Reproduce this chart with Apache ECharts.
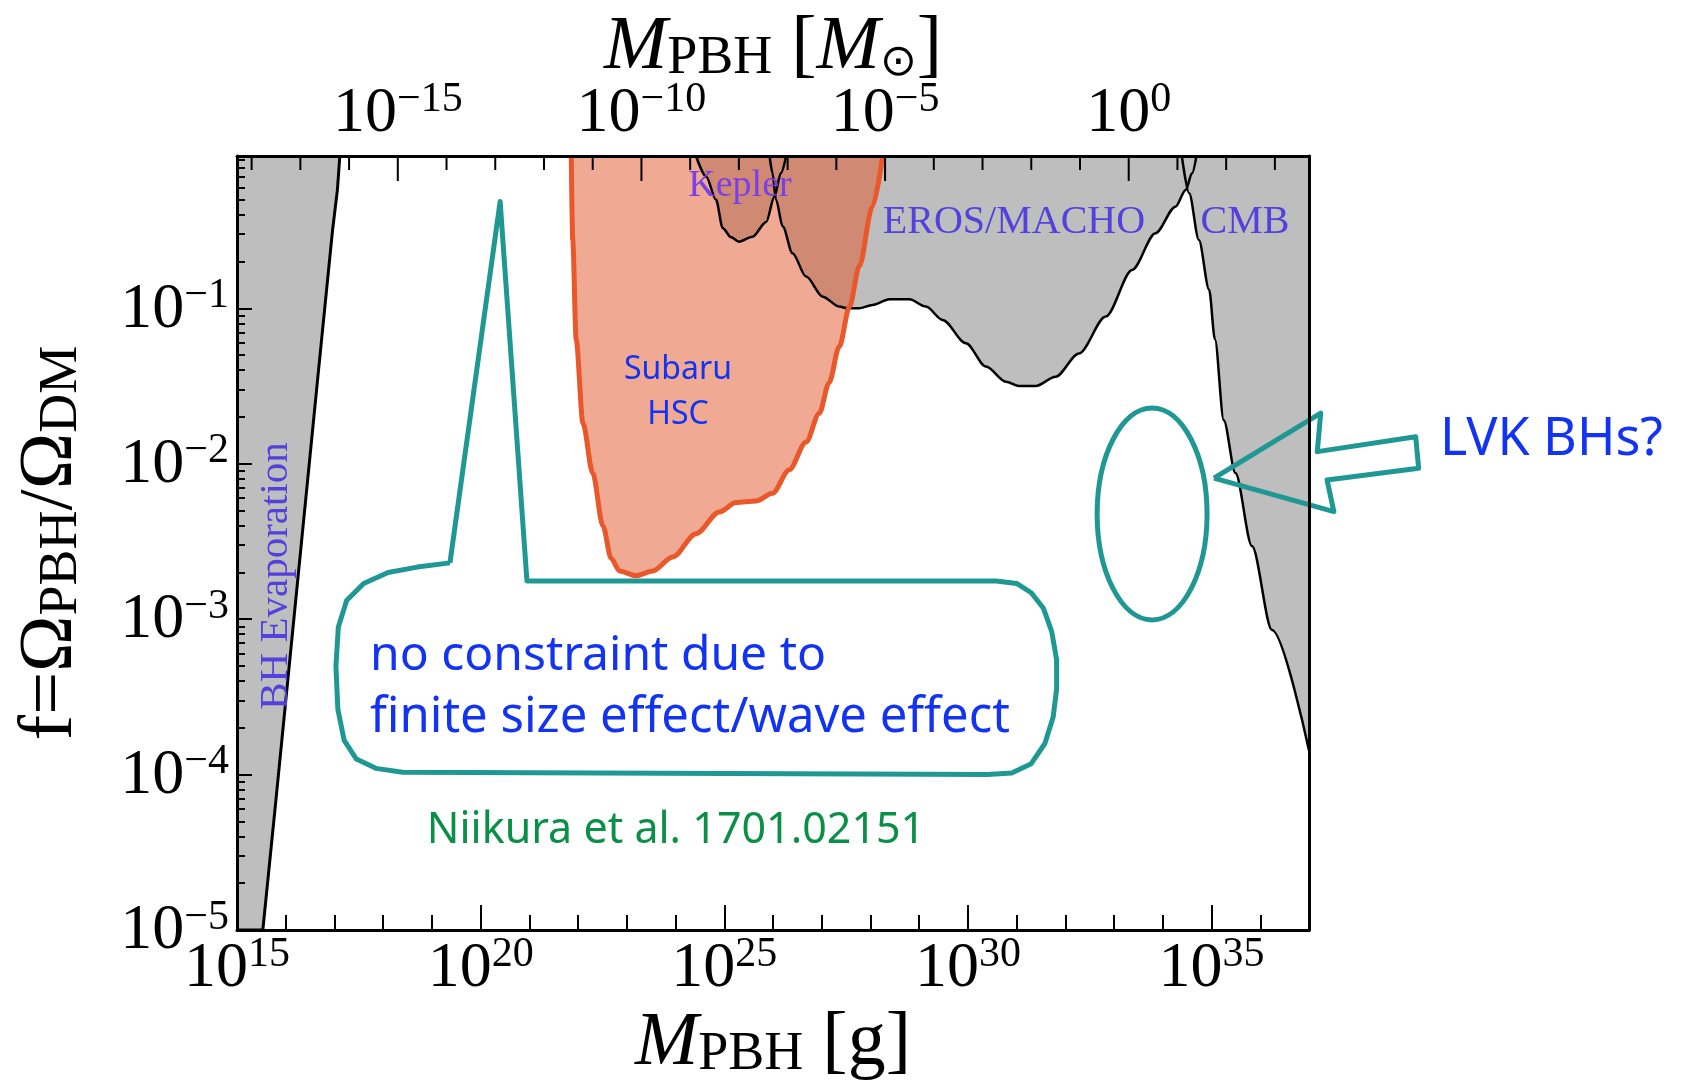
<!DOCTYPE html>
<html>
<head>
<meta charset="utf-8">
<script src="https://cdn.jsdelivr.net/npm/echarts@6/dist/echarts.min.js"></script>
<style>
html, body { margin: 0; padding: 0; background: #fff; }
#chart { width: 1681px; height: 1081px; }
</style>
</head>
<body>
<div id="chart"></div>
<script>
// every x value is log10(M / g), every y value is log10(f)
var xMin = 15, xMax = 37, yMin = -5, yMax = -0.02;
var sunLog = 33.3; // log10(M_sun / g), shift for the top axis

var yLabelValues = [-5, -4, -3, -2, -1];
var xLabelValues = [15, 20, 25, 30, 35];
var sunLabelValues = [-15, -10, -5, 0];

// BH evaporation bound
var evapM = [15.0, 15.53, 15.80, 16.66, 16.96, 17.06, 17.11];
var evapF = [-5, -5, -4.16, -1.44, -0.50, -0.24, -0.02];

// Kepler
var keplerM = [24.42, 24.63, 24.83, 24.97, 25.14, 25.30, 25.58, 25.86, 26.03, 26.16, 26.27];
var keplerF = [-0.02, -0.153, -0.302, -0.485, -0.543, -0.571, -0.539, -0.444, -0.281, -0.131, -0.02];

// EROS / MACHO
var erosM = [25.93, 25.99, 26.06, 26.20, 26.40, 26.68, 27.02, 27.36, 27.53, 27.77, 28.04, 28.39, 28.80,
    29.14, 29.48, 29.96, 30.37, 30.78, 31.05, 31.39, 31.80, 32.28, 32.83, 33.37, 33.85, 34.26, 34.47, 34.60, 34.69];
var erosF = [-0.02, -0.13, -0.30, -0.474, -0.645, -0.796, -0.925, -0.989, -1.0, -1.0, -0.978, -0.942, -0.942,
    -0.989, -1.075, -1.225, -1.375, -1.472, -1.50, -1.50, -1.44, -1.29, -1.053, -0.753, -0.517, -0.346, -0.238, -0.131, -0.02];

// CMB
var cmbM = [34.39, 34.54, 34.74, 34.95, 35.07, 35.25, 35.49, 35.83, 36.24, 37.0];
var cmbF = [-0.02, -0.26, -0.56, -0.88, -1.20, -1.72, -2.06, -2.53, -3.07, -3.845];

// Subaru HSC
var hscM = [21.86, 21.89, 21.96, 22.10, 22.30, 22.51, 22.68, 22.85, 23.19, 23.53, 23.94, 24.42, 24.90,
    25.24, 25.65, 25.99, 26.33, 26.68, 26.95, 27.15, 27.36, 27.57, 27.77, 28.04, 28.25];
var hscF = [-0.02, -0.56, -1.20, -1.74, -2.06, -2.40, -2.61, -2.69, -2.72, -2.69, -2.60, -2.45, -2.31,
    -2.25, -2.24, -2.19, -2.04, -1.86, -1.675, -1.48, -1.246, -0.99, -0.73, -0.346, -0.02];

// hand drawn annotations
var bubbleM = [19.37, 20.40, 20.95, 30.58, 31.00, 31.30, 31.55, 31.72, 31.82, 31.82, 31.75, 31.58, 31.30, 30.90,
    30.40, 18.40, 17.85, 17.45, 17.20, 17.07, 17.03, 17.08, 17.25, 17.60, 18.10, 18.70, 19.37];
var bubbleF = [-2.638, -0.313, -2.754, -2.754, -2.77, -2.83, -2.93, -3.08, -3.26, -3.45, -3.63, -3.80, -3.93, -3.99,
    -4.00, -3.985, -3.96, -3.90, -3.78, -3.58, -3.30, -3.05, -2.88, -2.77, -2.70, -2.665, -2.638];
var arrowM = [35.05, 37.24, 37.17, 39.19, 39.25, 37.37, 37.51, 35.05];
var arrowF = [-2.093, -1.675, -1.922, -1.826, -2.029, -2.104, -2.308, -2.093];
var lvkEllipse = [33.78, -2.323, 1.128, 0.682]; // centre x, centre y, half width, half height

var teal = '#1f9793';
var grayFill = '#bebebe';
var serif = 'Liberation Serif';

function pairs(xs, ys) {
    var out = [];
    for (var i = 0; i < xs.length; i++) out.push([xs[i], ys[i]]);
    return out;
}

function region(xs, ys, color, smooth, z) {
    return {
        type: 'line', data: pairs(xs, ys), symbol: 'none', smooth: smooth, smoothMonotone: 'x',
        silent: true, z: z, lineStyle: { width: 0, opacity: 0 },
        areaStyle: { color: color, opacity: 1, origin: 'end' }
    };
}

function edge(xs, ys, color, width, smooth, z) {
    return {
        type: 'line', data: pairs(xs, ys), symbol: 'none', smooth: smooth, smoothMonotone: 'x',
        silent: true, z: z, lineStyle: { color: color, width: width }
    };
}

// teal hand drawn outline, allowed to leave the plot frame
function sketch(xs, ys) {
    return {
        type: 'custom', data: [[xs[0], ys[0]]], silent: true, clip: false, z: 6,
        renderItem: function(params, api) {
            var pts = [];
            for (var i = 0; i < xs.length; i++) pts.push(api.coord([xs[i], ys[i]]));
            return {
                type: 'polyline', shape: { points: pts },
                style: { fill: 'none', stroke: teal, lineWidth: 5, lineJoin: 'round' }
            };
        }
    };
}

function powLabel(v) {
    var e = Math.round(v);
    return '{b|10}{s|' + (e < 0 ? '\u2212' + (-e) : e) + '}';
}

var tickRich = {
    b: { fontFamily: serif, fontSize: 64, color: '#000', verticalAlign: 'bottom' },
    s: { fontFamily: serif, fontSize: 42, color: '#000', verticalAlign: 'bottom', padding: [0, 0, 25, 0] }
};
var nameRich = {
    it: { fontFamily: serif, fontStyle: 'italic', fontSize: 76, color: '#000', verticalAlign: 'bottom' },
    n: { fontFamily: serif, fontSize: 76, color: '#000', verticalAlign: 'bottom' },
    sub: { fontFamily: serif, fontSize: 54, color: '#000', verticalAlign: 'bottom' },
    sun: { fontFamily: 'DejaVu Sans', fontSize: 44, color: '#000', verticalAlign: 'bottom' }
};

// log minor ticks of f
var yMinor = [];
for (var n = -5; n < 0; n++) for (var m = 2; m <= 9; m++) yMinor.push(n + Math.log10(m));

var frame = { onZero: false, lineStyle: { color: '#000', width: 3 } };
var noLine = { show: false, onZero: false };
var tickLine = { color: '#000', width: 2 };

var texts = [
    { type: 'text', x: 740, y: 186, z: 100, style: { text: 'Kepler', font: '38px "Liberation Serif"', fill: '#7b3fe6', align: 'center', verticalAlign: 'middle' } },
    { type: 'text', x: 1014, y: 222, z: 100, style: { text: 'EROS/MACHO', font: '40px "Liberation Serif"', fill: '#5540dd', align: 'center', verticalAlign: 'middle' } },
    { type: 'text', x: 1245, y: 222, z: 100, style: { text: 'CMB', font: '40px "Liberation Serif"', fill: '#5540dd', align: 'center', verticalAlign: 'middle' } },
    { type: 'text', x: 276, y: 576, rotation: Math.PI / 2, z: 100, style: { text: 'BH Evaporation', font: '41px "Liberation Serif"', fill: '#5540dd', align: 'center', verticalAlign: 'middle' } },
    { type: 'text', x: 678, y: 370, z: 100, style: { text: 'Subaru', font: '32px "Noto Sans"', fill: '#1233f2', align: 'center', verticalAlign: 'middle' } },
    { type: 'text', x: 678, y: 415, z: 100, style: { text: 'HSC', font: '32px "Noto Sans"', fill: '#1233f2', align: 'center', verticalAlign: 'middle' } },
    { type: 'text', x: 370, y: 656, z: 100, style: { text: 'no constraint due to', font: '48px "Noto Sans"', fill: '#1233f2', align: 'left', verticalAlign: 'middle' } },
    { type: 'text', x: 370, y: 718, z: 100, style: { text: 'finite size effect/wave effect', font: '49px "Noto Sans"', fill: '#1233f2', align: 'left', verticalAlign: 'middle' } },
    { type: 'text', x: 676, y: 831, z: 100, style: { text: 'Niikura et al. 1701.02151', font: '43px "Noto Sans"', fill: '#0a8f46', align: 'center', verticalAlign: 'middle' } },
    { type: 'text', x: 1440, y: 440, z: 100, style: { text: 'LVK BHs?', font: '52px "Noto Sans"', fill: '#1233f2', align: 'left', verticalAlign: 'middle' } }
];

var option = {
    backgroundColor: '#fff',
    animation: false,
    grid: { left: 237, right: 372, top: 156, bottom: 151, containLabel: false, outerBoundsMode: 'none' },
    xAxis: [{
        type: 'value', position: 'bottom', min: xMin, max: xMax, interval: 5, z: 10,
        axisLine: frame,
        axisTick: { inside: true, length: 25, lineStyle: tickLine },
        minorTick: { show: true, splitNumber: 5, length: 15, lineStyle: tickLine },
        splitLine: { show: false }, minorSplitLine: { show: false },
        axisLabel: { customValues: xLabelValues, margin: 4, formatter: powLabel, rich: tickRich },
        name: '{it|M}{sub|PBH}{n| [g]}', nameLocation: 'middle', nameGap: 72,
        nameTextStyle: { rich: nameRich }
    }, {
        type: 'value', position: 'top', min: xMin - sunLog, max: xMax - sunLog, z: 10,
        axisLine: frame,
        axisTick: { show: false },
        splitLine: { show: false },
        axisLabel: { customValues: sunLabelValues, margin: 10, formatter: powLabel, rich: tickRich },
        name: '{it|M}{sub|PBH}{n| [}{it|M}{sun|\u2299}{n|]}', nameLocation: 'middle', nameGap: 70,
        nameMoveOverlap: false,
        nameTextStyle: { rich: nameRich }
    }],
    yAxis: [{
        type: 'value', position: 'left', min: yMin, max: yMax, z: 10,
        axisLine: frame,
        axisTick: { show: true, inside: true, length: 15, customValues: yLabelValues, lineStyle: tickLine },
        splitLine: { show: false },
        axisLabel: { customValues: yLabelValues, margin: 8, formatter: powLabel, rich: tickRich },
        name: '{n|f=\u03a9}{sub|PBH}{n|/\u03a9}{sub|DM}', nameLocation: 'middle', nameRotate: 90, nameGap: 148,
        nameTextStyle: { rich: nameRich }
    }, {
        type: 'value', position: 'left', min: yMin, max: yMax, z: 10,
        axisLine: noLine,
        axisTick: { show: true, inside: true, length: 8, customValues: yMinor, lineStyle: tickLine },
        splitLine: { show: false }, axisLabel: { show: false }
    }, {
        type: 'value', position: 'right', min: yMin, max: yMax, z: 10,
        axisLine: frame, axisTick: { show: false }, axisLabel: { show: false }, splitLine: { show: false }
    }],
    series: [
        region(evapM, evapF, grayFill, false, 2),
        region(erosM, erosF, grayFill, 0.3, 2),
        region(keplerM, keplerF, grayFill, 0.3, 2),
        region(cmbM, cmbF, grayFill, 0.3, 2),
        region(hscM, hscF, 'rgba(226,86,42,0.5)', 0.3, 3),
        edge(evapM, evapF, '#000', 3, false, 4),
        edge(erosM, erosF, '#000', 2.5, 0.3, 4),
        edge(keplerM, keplerF, '#000', 2.5, 0.3, 4),
        edge(cmbM, cmbF, '#000', 2.5, 0.3, 4),
        edge(hscM, hscF, '#e8582b', 5, 0.3, 5),
        sketch(bubbleM, bubbleF),
        sketch(arrowM, arrowF),
        {
            type: 'custom', data: [lvkEllipse], silent: true, z: 6, clip: false,
            renderItem: function(params, api) {
                var c = api.coord([api.value(0), api.value(1)]);
                var s = api.size([api.value(2), api.value(3)]);
                return {
                    type: 'ellipse',
                    shape: { cx: c[0], cy: c[1], rx: s[0], ry: s[1] },
                    style: { fill: 'none', stroke: teal, lineWidth: 5 }
                };
            }
        }
    ]
};

var myChart = echarts.init(document.getElementById('chart'));
myChart.setOption(option);

// inward ticks hanging from the top frame at every solar-mass decade,
// placed through the chart's own scale; long ones every fifth decade
var tickMarks = [];
for (var k = -18; k <= 3; k++) {
    var p = myChart.convertToPixel({ xAxisIndex: 0, yAxisIndex: 0 }, [k + sunLog, yMax]);
    var len = k % 5 === 0 ? 25 : 14;
    tickMarks.push({
        type: 'line', z: 90, silent: true,
        shape: { x1: p[0], y1: p[1], x2: p[0], y2: p[1] + len },
        style: { stroke: '#000', lineWidth: 2 }
    });
}
myChart.setOption({ graphic: texts.concat(tickMarks) });
</script>
</body>
</html>
